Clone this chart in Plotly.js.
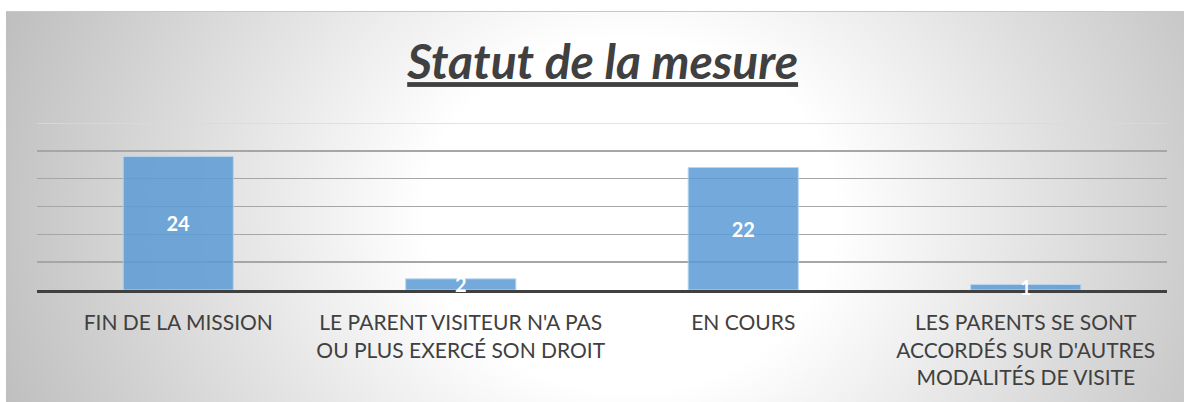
<!DOCTYPE html>
<html>
<head>
<meta charset="utf-8">
<script src="https://cdn.plot.ly/plotly-3.0.1.min.js"></script>
<style>
  html, body { margin: 0; padding: 0; background: #ffffff; }
  #wrap { position: relative; width: 1184px; height: 402px; overflow: hidden; }
  #bg { position: absolute; left: 6px; top: 11px; right: 0; bottom: 0;
        border-top: 1px solid #c8c8c8;
        background: radial-gradient(ellipse 58% 150% at 53% 52%, #ffffff 0%, #ffffff 30%, #bcbcbc 100%); }
  #chart { position: absolute; left: 0; top: 0; width: 1184px; height: 402px; }
</style>
</head>
<body>
<div id="wrap"><div id="bg"></div><div id="chart"></div></div>
<script>
const categories = [
  "FIN DE LA MISSION",
  "LE PARENT VISITEUR N'A PAS OU PLUS EXERCÉ SON DROIT",
  "EN COURS",
  "LES PARENTS SE SONT ACCORDÉS SUR D'AUTRES MODALITÉS DE VISITE"
];
const tickLabels = [
  "FIN DE LA MISSION",
  "LE PARENT VISITEUR N'A PAS<br>OU PLUS EXERCÉ SON DROIT",
  "EN COURS",
  "LES PARENTS SE SONT<br>ACCORDÉS SUR D'AUTRES<br>MODALITÉS DE VISITE"
];
const values = [24, 2, 22, 1];
const gridValues = [5, 10, 15, 20, 25];
const chartTitle = "Statut de la mesure";

const trace = {
  type: 'bar',
  x: categories,
  y: values,
  text: values.map(String),
  textposition: 'inside',
  insidetextanchor: 'middle',
  constraintext: 'none',
  textangle: 0,
  cliponaxis: false,
  textfont: { family: 'Lato, sans-serif', size: 20, color: '#ffffff', weight: 'bold' },
  marker: { color: 'rgba(91,155,213,0.85)', line: { color: 'rgba(189,215,238,0.9)', width: 1 } },
  hoverinfo: 'none'
};

const layout = {
  width: 1184, height: 402,
  margin: { l: 37, r: 17, t: 123, b: 112, pad: 0 },
  paper_bgcolor: 'rgba(0,0,0,0)',
  plot_bgcolor: 'rgba(0,0,0,0)',
  bargap: 0.61,
  showlegend: false,
  title: {
    text: chartTitle,
    xref: 'container', yref: 'container',
    x: 0.509, xanchor: 'center',
    y: 0.845, yanchor: 'middle',
    font: { family: 'Lato, sans-serif', size: 48, color: '#404040', weight: 'bold', style: 'italic', lineposition: 'under' }
  },
  xaxis: {
    type: 'category',
    tickvals: categories,
    ticktext: tickLabels,
    showgrid: false,
    showline: true, linecolor: '#404040', linewidth: 3,
    ticks: '', ticklabelstandoff: 12,
    layer: 'below traces',
    tickfont: { family: 'Lato, sans-serif', size: 21, color: '#404040' },
    fixedrange: true
  },
  yaxis: {
    range: [0, 30],
    tickvals: gridValues,
    showticklabels: false,
    showgrid: true, gridcolor: '#a6a6a6', gridwidth: 1.5,
    zeroline: false, showline: false, ticks: '',
    fixedrange: true
  },
  shapes: [{
    type: 'line', xref: 'paper', yref: 'y', x0: 0, x1: 1, y0: 30, y1: 30,
    line: { color: '#dadada', width: 1.5 }, layer: 'below'
  }]
};

Plotly.newPlot('chart', [trace], layout, { displayModeBar: false, staticPlot: true });
</script>
</body>
</html>
